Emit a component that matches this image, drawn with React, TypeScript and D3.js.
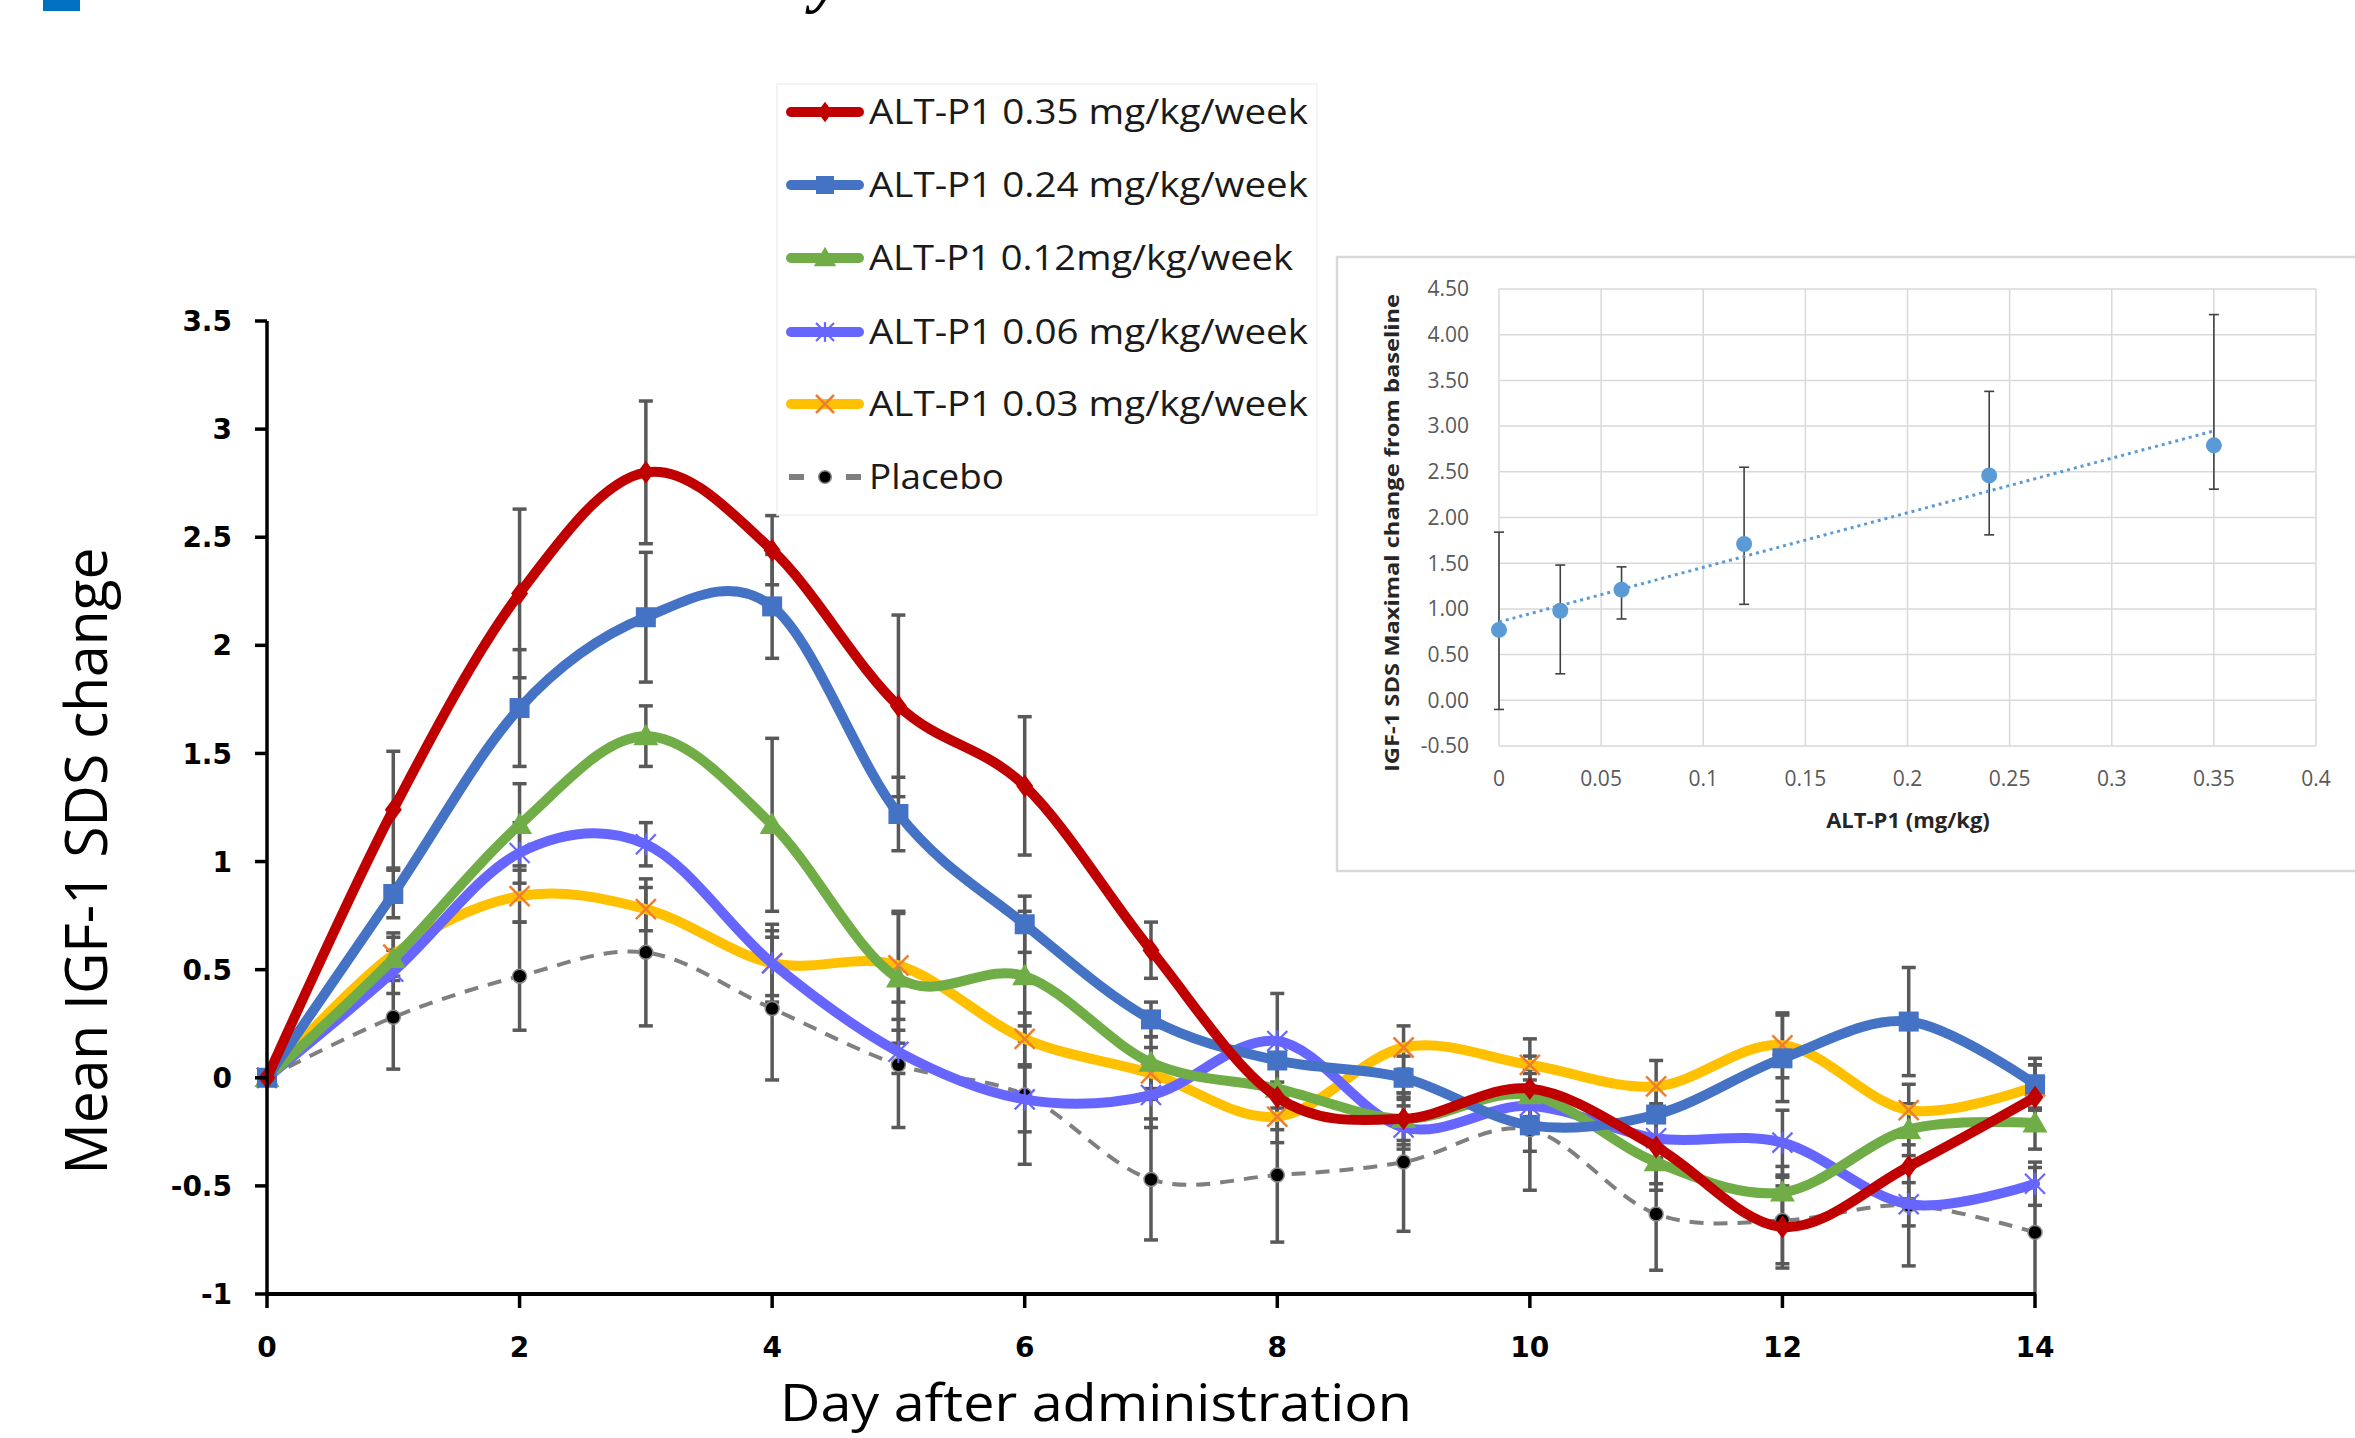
import React from 'react';
import * as d3 from 'd3';

// ---------- Main chart data ----------
const days = [0, 1, 2, 3, 4, 5, 6, 7, 8, 9, 10, 11, 12, 13, 14];
const xTickDays = [0, 2, 4, 6, 8, 10, 12, 14];
const yTicks = [3.5, 3, 2.5, 2, 1.5, 1, 0.5, 0, -0.5, -1];

const seriesNames = [
  'ALT-P1 0.35 mg/kg/week',
  'ALT-P1 0.24 mg/kg/week',
  'ALT-P1 0.12mg/kg/week',
  'ALT-P1 0.06 mg/kg/week',
  'ALT-P1 0.03 mg/kg/week',
  'Placebo',
];

const dose035 = [0, 1.24, 2.24, 2.8, 2.44, 1.72, 1.35, 0.59, -0.09, -0.19, -0.05, -0.32, -0.69, -0.41, -0.09];
const dose024 = [0, 0.85, 1.71, 2.13, 2.18, 1.22, 0.71, 0.27, 0.08, 0.0, -0.22, -0.17, 0.09, 0.26, -0.03];
const dose012 = [0, 0.55, 1.17, 1.58, 1.17, 0.46, 0.47, 0.07, -0.05, -0.19, -0.08, -0.39, -0.53, -0.24, -0.21];
const dose006 = [0, 0.49, 1.04, 1.08, 0.53, 0.12, -0.1, -0.08, 0.17, -0.23, -0.13, -0.28, -0.3, -0.585, -0.49];
const dose003 = [0, 0.57, 0.84, 0.78, 0.53, 0.52, 0.18, 0.02, -0.18, 0.14, 0.06, -0.04, 0.15, -0.15, -0.04];
const placebo = [0, 0.28, 0.47, 0.58, 0.32, 0.06, -0.08, -0.47, -0.45, -0.39, -0.24, -0.63, -0.66, -0.59, -0.715];

const err035 = [0, 0.27, 0.39, 0.33, 0.16, 0.42, 0.32, 0.13, 0.15, 0.12, 0.15, 0.2, 0.19, 0.15, 0.15];
const err024 = [0, 0.11, 0.27, 0.3, 0.24, 0.17, 0.13, 0.08, 0.1, 0.1, 0.12, 0.12, 0.2, 0.25, 0.12];
const err012 = [0, 0.1, 0.19, 0.14, 0.4, 0.3, 0.3, 0.12, 0.12, 0.1, 0.1, 0.1, 0.12, 0.12, 0.12];
const err006 = [0, 0.1, 0.14, 0.1, 0.18, 0.1, 0.15, 0.15, 0.22, 0.1, 0.12, 0.1, 0.15, 0.1, 0.1];
const err003 = [0, 0.1, 0.12, 0.1, 0.15, 0.25, 0.12, 0.12, 0.12, 0.1, 0.12, 0.12, 0.15, 0.12, 0.1];
const errPlacebo = [0, 0.24, 0.25, 0.34, 0.33, 0.29, 0.32, 0.28, 0.31, 0.32, 0.28, 0.26, 0.2, 0.28, 0.3];

const seriesColors = ['#C00000', '#4472C4', '#70AD47', '#6666FF', '#FFC000', '#7F7F7F'];
const markerKinds = ['diamond', 'square', 'triangle', 'asterisk', 'cross', 'circle'];

// ---------- Inset data ----------
const insetDoses = [0, 0.03, 0.06, 0.12, 0.24, 0.35];
const insetMaxChange = [0.77, 0.98, 1.21, 1.71, 2.46, 2.79];
const insetLow = [-0.1, 0.29, 0.89, 1.05, 1.81, 2.31];
const insetHigh = [1.84, 1.48, 1.46, 2.55, 3.38, 4.22];
const insetYTicks = [4.5, 4, 3.5, 3, 2.5, 2, 1.5, 1, 0.5, 0, -0.5];
const insetXTicks = [0, 0.05, 0.1, 0.15, 0.2, 0.25, 0.3, 0.35, 0.4];

function Marker({ kind, cx, cy, scale = 1 }: { kind: string; cx: number; cy: number; scale?: number }) {
  const s = scale;
  if (kind === 'square') {
    return <rect x={cx - 10 * s} y={cy - 10 * s} width={20 * s} height={20 * s} fill="#4472C4" />;
  }
  if (kind === 'diamond') {
    const w = 8.5 * s, h = 11.5 * s;
    return <path d={`M${cx},${cy - h}L${cx + w},${cy}L${cx},${cy + h}L${cx - w},${cy}Z`} fill="#C00000" />;
  }
  if (kind === 'triangle') {
    const p = d3.symbol().type(d3.symbolTriangle).size(270 * s * s)();
    return <path d={p as string} transform={`translate(${cx},${cy + 2 * s})`} fill="#70AD47" />;
  }
  if (kind === 'asterisk') {
    const r = 10 * s;
    return (
      <g stroke="#6666FF" strokeWidth={2.2}>
        <line x1={cx - r} y1={cy - r} x2={cx + r} y2={cy + r} />
        <line x1={cx - r} y1={cy + r} x2={cx + r} y2={cy - r} />
        <line x1={cx} y1={cy - r * 1.1} x2={cx} y2={cy + r * 1.1} />
      </g>
    );
  }
  if (kind === 'cross') {
    const r = 10 * s;
    return (
      <g stroke="#ED7D31" strokeWidth={2.5}>
        <line x1={cx - r} y1={cy - r} x2={cx + r} y2={cy + r} />
        <line x1={cx - r} y1={cy + r} x2={cx + r} y2={cy - r} />
      </g>
    );
  }
  return <circle cx={cx} cy={cy} r={7 * s} fill="#000" stroke="#8a8a8a" strokeWidth={1.5} />;
}

export default function App() {
  const W = 2355, H = 1438;
  const values = [dose035, dose024, dose012, dose006, dose003, placebo];
  const errs = [err035, err024, err012, err006, err003, errPlacebo];

  const x = d3.scaleLinear().domain([0, 14]).range([267, 2035]);
  const y = d3.scaleLinear().domain([-1, 3.5]).range([1294, 321]);

  const line = d3
    .line<[number, number]>()
    .x((d) => x(d[0]))
    .y((d) => y(d[1]))
    .curve(d3.curveCardinal.tension(0));

  // draw order: placebo first, red last (on top)
  const drawOrder = [5, 4, 3, 2, 1, 0];

  // inset scales
  const ix = d3.scaleLinear().domain([0, 0.4]).range([1499, 2316]);
  const iy = d3.scaleLinear().domain([-0.5, 4.5]).range([746, 289]);
  const meanX = d3.mean(insetDoses) as number;
  const meanY = d3.mean(insetMaxChange) as number;
  const sxy = d3.sum(insetDoses.map((d, i) => (d - meanX) * (insetMaxChange[i] - meanY)));
  const sxx = d3.sum(insetDoses.map((d) => (d - meanX) * (d - meanX)));
  const slope = sxy / sxx;
  const intercept = meanY - slope * meanX;
  const xMin = d3.min(insetDoses) as number;
  const xMax = d3.max(insetDoses) as number;

  const legendRows = [112, 185, 258, 332, 404, 477];
  const legendWidths = [439, 439, 424, 439, 439, 135];

  return (
    <svg
      width={W}
      height={H}
      viewBox={`0 0 ${W} ${H}`}
      style={{ position: 'absolute', left: 0, top: 0, display: 'block', background: '#fff' }}
    >
      <rect x={0} y={0} width={W} height={H} fill="#fff" />
      {/* cut-off header fragments */}
      <rect x={43} y={0} width={37} height={11} fill="#0070C0" />
      <text x={812} y={0} fontFamily="Liberation Serif, serif" fontStyle="italic" fontWeight="bold" fontSize={66} fill="#000">
        y
      </text>

      {/* Error bars */}
      <g stroke="#595959" strokeWidth={3.5}>
        {drawOrder.map((si) =>
          days.map((d, i) => {
            if (errs[si][i] === 0) return null;
            const v = values[si][i];
            const lo = Math.max(-1, v - errs[si][i]);
            const hi = Math.min(3.5, v + errs[si][i]);
            const cx = x(d);
            return (
              <g key={`e${si}-${i}`}>
                <line x1={cx} x2={cx} y1={y(lo)} y2={y(hi)} />
                <line x1={cx - 7} x2={cx + 7} y1={y(hi)} y2={y(hi)} />
                {v - errs[si][i] >= -1 && <line x1={cx - 7} x2={cx + 7} y1={y(lo)} y2={y(lo)} />}
              </g>
            );
          })
        )}
      </g>

      {/* Lines and markers */}
      {drawOrder.map((si) => {
        const pts = days.map((d, i) => [d, values[si][i]] as [number, number]);
        const isPlacebo = si === 5;
        return (
          <g key={`s${si}`}>
            <path
              d={line(pts) as string}
              fill="none"
              stroke={seriesColors[si]}
              strokeWidth={isPlacebo ? 4 : 10}
              strokeDasharray={isPlacebo ? '14,10' : undefined}
              strokeLinejoin="round"
              strokeLinecap={isPlacebo ? 'butt' : 'round'}
            />
            {pts.map((p, i) => (
              <Marker key={i} kind={markerKinds[si]} cx={x(p[0])} cy={y(p[1])} />
            ))}
          </g>
        );
      })}

      {/* Axes */}
      <line x1={267} x2={267} y1={y(3.5)} y2={y(-1) + 1} stroke="#000" strokeWidth={3.5} />
      {yTicks.map((t) => (
        <g key={`yt${t}`}>
          <line x1={255} x2={267} y1={y(t)} y2={y(t)} stroke="#000" strokeWidth={3.5} />
          <text
            x={232}
            y={y(t)}
            dy="0.36em"
            textAnchor="end"
            fontFamily="DejaVu Sans, Verdana, sans-serif"
            fontWeight="bold"
            fontSize={28}
            fill="#000"
          >
            {String(t)}
          </text>
        </g>
      ))}
      <line x1={265.5} x2={2036} y1={y(-1)} y2={y(-1)} stroke="#000" strokeWidth={4} />
      {xTickDays.map((t) => (
        <g key={`xt${t}`}>
          <line x1={x(t)} x2={x(t)} y1={y(-1)} y2={y(-1) + 14} stroke="#000" strokeWidth={3.5} />
          <text
            x={x(t)}
            y={1357}
            textAnchor="middle"
            fontFamily="DejaVu Sans, Verdana, sans-serif"
            fontWeight="bold"
            fontSize={28}
            fill="#000"
          >
            {String(t)}
          </text>
        </g>
      ))}
      <text
        x={1096}
        y={1421}
        textAnchor="middle"
        fontFamily="Open Sans, sans-serif"
        fontSize={52}
        textLength={632}
        lengthAdjust="spacingAndGlyphs"
        fill="#000"
      >
        Day after administration
      </text>
      <text
        transform={`translate(107,861) rotate(-90)`}
        textAnchor="middle"
        fontFamily="Open Sans, sans-serif"
        fontSize={58}
        textLength={627}
        lengthAdjust="spacingAndGlyphs"
        fill="#000"
      >
        Mean IGF-1 SDS change
      </text>

      {/* Legend */}
      <rect x={777} y={84} width={540} height={431} fill="#fff" stroke="#f0f0f0" strokeWidth={1.5} />
      {seriesNames.map((name, si) => {
        const cy = legendRows[si];
        const isPlacebo = si === 5;
        return (
          <g key={`lg${si}`}>
            {isPlacebo ? (
              <g stroke="#7F7F7F" strokeWidth={6}>
                <line x1={789} x2={804} y1={cy} y2={cy} />
                <line x1={846} x2={861} y1={cy} y2={cy} />
              </g>
            ) : (
              <line x1={791} x2={859} y1={cy} y2={cy} stroke={seriesColors[si]} strokeWidth={10} strokeLinecap="round" />
            )}
            <Marker kind={markerKinds[si]} cx={825} cy={cy} scale={0.9} />
            <text
              x={869}
              y={cy + 12}
              fontFamily="Open Sans, sans-serif"
              fontSize={34}
              textLength={legendWidths[si]}
              lengthAdjust="spacingAndGlyphs"
              fill="#1a1a1a"
            >
              {name}
            </text>
          </g>
        );
      })}

      {/* Inset chart */}
      <rect x={1337} y={257} width={1030} height={614} fill="#fff" stroke="#D9D9D9" strokeWidth={2.5} />
      <g stroke="#D9D9D9" strokeWidth={1.5}>
        {insetYTicks.map((t) => (
          <line key={`ig${t}`} x1={ix(0)} x2={ix(0.4)} y1={iy(t)} y2={iy(t)} />
        ))}
        {insetXTicks.map((t) => (
          <line key={`igx${t}`} x1={ix(t)} x2={ix(t)} y1={iy(4.5)} y2={iy(-0.5)} />
        ))}
      </g>
      {insetYTicks.map((t) => (
        <text
          key={`iyl${t}`}
          x={1469}
          y={iy(t)}
          dy="0.35em"
          textAnchor="end"
          fontFamily="Open Sans, sans-serif"
          fontSize={21}
          fill="#595959"
        >
          {t.toFixed(2)}
        </text>
      ))}
      {insetXTicks.map((t) => (
        <text
          key={`ixl${t}`}
          x={ix(t)}
          y={786}
          textAnchor="middle"
          fontFamily="Open Sans, sans-serif"
          fontSize={21}
          fill="#595959"
        >
          {String(t)}
        </text>
      ))}
      <text
        x={1908}
        y={828}
        textAnchor="middle"
        fontFamily="Open Sans, sans-serif"
        fontWeight="bold"
        fontSize={22}
        fill="#262626"
      >
        ALT-P1 (mg/kg)
      </text>
      <text
        transform={`translate(1399,533) rotate(-90)`}
        textAnchor="middle"
        fontFamily="Open Sans, sans-serif"
        fontWeight="bold"
        fontSize={20}
        textLength={478}
        lengthAdjust="spacingAndGlyphs"
        fill="#262626"
      >
        IGF-1 SDS Maximal change from baseline
      </text>
      <g stroke="#404040" strokeWidth={1.6}>
        {insetDoses.map((d, i) => (
          <g key={`ie${i}`}>
            <line x1={ix(d)} x2={ix(d)} y1={iy(insetLow[i])} y2={iy(insetHigh[i])} />
            <line x1={ix(d) - 5} x2={ix(d) + 5} y1={iy(insetLow[i])} y2={iy(insetLow[i])} />
            <line x1={ix(d) - 5} x2={ix(d) + 5} y1={iy(insetHigh[i])} y2={iy(insetHigh[i])} />
          </g>
        ))}
      </g>
      <line
        x1={ix(xMin)}
        x2={ix(xMax)}
        y1={iy(intercept + slope * xMin)}
        y2={iy(intercept + slope * xMax)}
        stroke="#5B9BD5"
        strokeWidth={3}
        strokeDasharray="3,4"
      />
      {insetDoses.map((d, i) => (
        <circle key={`ip${i}`} cx={ix(d)} cy={iy(insetMaxChange[i])} r={8} fill="#5B9BD5" />
      ))}
    </svg>
  );
}
